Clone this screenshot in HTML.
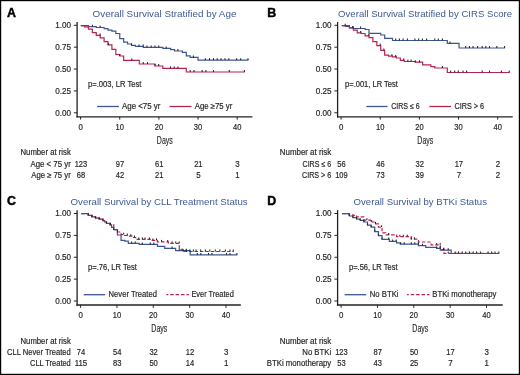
<!DOCTYPE html>
<html><head><meta charset="utf-8"><style>
html,body{margin:0;padding:0;background:#fff;}
svg{display:block;will-change:transform;font-family:"Liberation Sans",sans-serif;}
</style></head><body>
<svg width="520" height="375" viewBox="0 0 520 375">
<rect x="0" y="0" width="520" height="375" fill="#fff"/>
<rect x="0.6" y="0.6" width="518.8" height="373.8" fill="none" stroke="#000" stroke-width="1.2"/>
<text x="7.00" y="17.00" font-size="12.4" font-weight="bold" fill="#000" stroke="#000" stroke-width="0.45">A</text>
<text x="92.60" y="17.00" font-size="9.8" textLength="143.80" lengthAdjust="spacingAndGlyphs" fill="#3f5b93">Overall Survival Stratified by Age</text>
<line x1="77.10" y1="22.00" x2="77.10" y2="117.45" stroke="#222222" stroke-width="1.3"/>
<line x1="76.45" y1="116.80" x2="252.40" y2="116.80" stroke="#222222" stroke-width="1.3"/>
<line x1="73.90" y1="25.30" x2="77.10" y2="25.30" stroke="#222222" stroke-width="1.0"/>
<text x="71.00" y="28.20" font-size="8.6" text-anchor="end" textLength="15.80" lengthAdjust="spacingAndGlyphs" fill="#231f20" stroke="#231f20" stroke-width="0.18">1.00</text>
<line x1="73.90" y1="47.17" x2="77.10" y2="47.17" stroke="#222222" stroke-width="1.0"/>
<text x="71.00" y="50.07" font-size="8.6" text-anchor="end" textLength="15.80" lengthAdjust="spacingAndGlyphs" fill="#231f20" stroke="#231f20" stroke-width="0.18">0.75</text>
<line x1="73.90" y1="69.05" x2="77.10" y2="69.05" stroke="#222222" stroke-width="1.0"/>
<text x="71.00" y="71.95" font-size="8.6" text-anchor="end" textLength="15.80" lengthAdjust="spacingAndGlyphs" fill="#231f20" stroke="#231f20" stroke-width="0.18">0.50</text>
<line x1="73.90" y1="90.92" x2="77.10" y2="90.92" stroke="#222222" stroke-width="1.0"/>
<text x="71.00" y="93.83" font-size="8.6" text-anchor="end" textLength="15.80" lengthAdjust="spacingAndGlyphs" fill="#231f20" stroke="#231f20" stroke-width="0.18">0.25</text>
<line x1="73.90" y1="112.80" x2="77.10" y2="112.80" stroke="#222222" stroke-width="1.0"/>
<text x="71.00" y="115.70" font-size="8.6" text-anchor="end" textLength="15.80" lengthAdjust="spacingAndGlyphs" fill="#231f20" stroke="#231f20" stroke-width="0.18">0.00</text>
<line x1="80.60" y1="116.80" x2="80.60" y2="119.60" stroke="#222222" stroke-width="1.0"/>
<text x="80.60" y="129.60" font-size="8.6" text-anchor="middle" textLength="4.40" lengthAdjust="spacingAndGlyphs" fill="#231f20" stroke="#231f20" stroke-width="0.18">0</text>
<line x1="119.75" y1="116.80" x2="119.75" y2="119.60" stroke="#222222" stroke-width="1.0"/>
<text x="119.75" y="129.60" font-size="8.6" text-anchor="middle" textLength="8.40" lengthAdjust="spacingAndGlyphs" fill="#231f20" stroke="#231f20" stroke-width="0.18">10</text>
<line x1="158.90" y1="116.80" x2="158.90" y2="119.60" stroke="#222222" stroke-width="1.0"/>
<text x="158.90" y="129.60" font-size="8.6" text-anchor="middle" textLength="8.40" lengthAdjust="spacingAndGlyphs" fill="#231f20" stroke="#231f20" stroke-width="0.18">20</text>
<line x1="198.05" y1="116.80" x2="198.05" y2="119.60" stroke="#222222" stroke-width="1.0"/>
<text x="198.05" y="129.60" font-size="8.6" text-anchor="middle" textLength="8.40" lengthAdjust="spacingAndGlyphs" fill="#231f20" stroke="#231f20" stroke-width="0.18">30</text>
<line x1="237.20" y1="116.80" x2="237.20" y2="119.60" stroke="#222222" stroke-width="1.0"/>
<text x="237.20" y="129.60" font-size="8.6" text-anchor="middle" textLength="8.40" lengthAdjust="spacingAndGlyphs" fill="#231f20" stroke="#231f20" stroke-width="0.18">40</text>
<text x="164.80" y="143.60" font-size="10" text-anchor="middle" textLength="15.90" lengthAdjust="spacingAndGlyphs" fill="#231f20" stroke="#231f20" stroke-width="0.15">Days</text>
<text x="88.10" y="86.50" font-size="8.6" textLength="53.30" lengthAdjust="spacingAndGlyphs" fill="#231f20" stroke="#231f20" stroke-width="0.18">p=.003, LR Test</text>
<line x1="97.10" y1="106.50" x2="118.90" y2="106.50" stroke="#3a5692" stroke-width="1.3"/>
<text x="122.00" y="109.10" font-size="8.3" textLength="38.30" lengthAdjust="spacingAndGlyphs" fill="#231f20" stroke="#231f20" stroke-width="0.18">Age &lt;75 yr</text>
<line x1="169.60" y1="106.50" x2="191.50" y2="106.50" stroke="#b8234d" stroke-width="1.3"/>
<text x="194.70" y="109.10" font-size="8.3" textLength="37.60" lengthAdjust="spacingAndGlyphs" fill="#231f20" stroke="#231f20" stroke-width="0.18">Age ≥75 yr</text>
<text x="70.75" y="155.40" font-size="8.2" text-anchor="end" textLength="50.25" lengthAdjust="spacingAndGlyphs" fill="#231f20" stroke="#231f20" stroke-width="0.18">Number at risk</text>
<text x="70.75" y="167.00" font-size="8.3" text-anchor="end" textLength="40.25" lengthAdjust="spacingAndGlyphs" fill="#231f20" stroke="#231f20" stroke-width="0.18">Age &lt; 75 yr</text>
<text x="80.90" y="167.00" font-size="8.6" text-anchor="middle" textLength="12.50" lengthAdjust="spacingAndGlyphs" fill="#231f20" stroke="#231f20" stroke-width="0.18">123</text>
<text x="120.05" y="167.00" font-size="8.6" text-anchor="middle" textLength="8.40" lengthAdjust="spacingAndGlyphs" fill="#231f20" stroke="#231f20" stroke-width="0.18">97</text>
<text x="159.20" y="167.00" font-size="8.6" text-anchor="middle" textLength="8.40" lengthAdjust="spacingAndGlyphs" fill="#231f20" stroke="#231f20" stroke-width="0.18">61</text>
<text x="198.35" y="167.00" font-size="8.6" text-anchor="middle" textLength="8.40" lengthAdjust="spacingAndGlyphs" fill="#231f20" stroke="#231f20" stroke-width="0.18">21</text>
<text x="237.50" y="167.00" font-size="8.6" text-anchor="middle" textLength="4.40" lengthAdjust="spacingAndGlyphs" fill="#231f20" stroke="#231f20" stroke-width="0.18">3</text>
<text x="70.75" y="177.90" font-size="8.3" text-anchor="end" textLength="39.50" lengthAdjust="spacingAndGlyphs" fill="#231f20" stroke="#231f20" stroke-width="0.18">Age ≥ 75 yr</text>
<text x="80.90" y="177.90" font-size="8.6" text-anchor="middle" textLength="8.40" lengthAdjust="spacingAndGlyphs" fill="#231f20" stroke="#231f20" stroke-width="0.18">68</text>
<text x="120.05" y="177.90" font-size="8.6" text-anchor="middle" textLength="8.40" lengthAdjust="spacingAndGlyphs" fill="#231f20" stroke="#231f20" stroke-width="0.18">42</text>
<text x="159.20" y="177.90" font-size="8.6" text-anchor="middle" textLength="8.40" lengthAdjust="spacingAndGlyphs" fill="#231f20" stroke="#231f20" stroke-width="0.18">21</text>
<text x="198.35" y="177.90" font-size="8.6" text-anchor="middle" textLength="4.40" lengthAdjust="spacingAndGlyphs" fill="#231f20" stroke="#231f20" stroke-width="0.18">5</text>
<text x="237.50" y="177.90" font-size="8.6" text-anchor="middle" textLength="4.40" lengthAdjust="spacingAndGlyphs" fill="#231f20" stroke="#231f20" stroke-width="0.18">1</text>
<text x="267.20" y="17.00" font-size="12.4" font-weight="bold" fill="#000" stroke="#000" stroke-width="0.45">B</text>
<text x="338.10" y="17.00" font-size="9.8" textLength="174.00" lengthAdjust="spacingAndGlyphs" fill="#3f5b93">Overall Survival Stratified by CIRS Score</text>
<line x1="337.60" y1="22.00" x2="337.60" y2="117.45" stroke="#222222" stroke-width="1.3"/>
<line x1="336.95" y1="116.80" x2="512.80" y2="116.80" stroke="#222222" stroke-width="1.3"/>
<line x1="334.40" y1="25.30" x2="337.60" y2="25.30" stroke="#222222" stroke-width="1.0"/>
<text x="331.50" y="28.20" font-size="8.6" text-anchor="end" textLength="15.80" lengthAdjust="spacingAndGlyphs" fill="#231f20" stroke="#231f20" stroke-width="0.18">1.00</text>
<line x1="334.40" y1="47.17" x2="337.60" y2="47.17" stroke="#222222" stroke-width="1.0"/>
<text x="331.50" y="50.07" font-size="8.6" text-anchor="end" textLength="15.80" lengthAdjust="spacingAndGlyphs" fill="#231f20" stroke="#231f20" stroke-width="0.18">0.75</text>
<line x1="334.40" y1="69.05" x2="337.60" y2="69.05" stroke="#222222" stroke-width="1.0"/>
<text x="331.50" y="71.95" font-size="8.6" text-anchor="end" textLength="15.80" lengthAdjust="spacingAndGlyphs" fill="#231f20" stroke="#231f20" stroke-width="0.18">0.50</text>
<line x1="334.40" y1="90.92" x2="337.60" y2="90.92" stroke="#222222" stroke-width="1.0"/>
<text x="331.50" y="93.83" font-size="8.6" text-anchor="end" textLength="15.80" lengthAdjust="spacingAndGlyphs" fill="#231f20" stroke="#231f20" stroke-width="0.18">0.25</text>
<line x1="334.40" y1="112.80" x2="337.60" y2="112.80" stroke="#222222" stroke-width="1.0"/>
<text x="331.50" y="115.70" font-size="8.6" text-anchor="end" textLength="15.80" lengthAdjust="spacingAndGlyphs" fill="#231f20" stroke="#231f20" stroke-width="0.18">0.00</text>
<line x1="341.10" y1="116.80" x2="341.10" y2="119.60" stroke="#222222" stroke-width="1.0"/>
<text x="341.10" y="129.60" font-size="8.6" text-anchor="middle" textLength="4.40" lengthAdjust="spacingAndGlyphs" fill="#231f20" stroke="#231f20" stroke-width="0.18">0</text>
<line x1="380.25" y1="116.80" x2="380.25" y2="119.60" stroke="#222222" stroke-width="1.0"/>
<text x="380.25" y="129.60" font-size="8.6" text-anchor="middle" textLength="8.40" lengthAdjust="spacingAndGlyphs" fill="#231f20" stroke="#231f20" stroke-width="0.18">10</text>
<line x1="419.40" y1="116.80" x2="419.40" y2="119.60" stroke="#222222" stroke-width="1.0"/>
<text x="419.40" y="129.60" font-size="8.6" text-anchor="middle" textLength="8.40" lengthAdjust="spacingAndGlyphs" fill="#231f20" stroke="#231f20" stroke-width="0.18">20</text>
<line x1="458.55" y1="116.80" x2="458.55" y2="119.60" stroke="#222222" stroke-width="1.0"/>
<text x="458.55" y="129.60" font-size="8.6" text-anchor="middle" textLength="8.40" lengthAdjust="spacingAndGlyphs" fill="#231f20" stroke="#231f20" stroke-width="0.18">30</text>
<line x1="497.70" y1="116.80" x2="497.70" y2="119.60" stroke="#222222" stroke-width="1.0"/>
<text x="497.70" y="129.60" font-size="8.6" text-anchor="middle" textLength="8.40" lengthAdjust="spacingAndGlyphs" fill="#231f20" stroke="#231f20" stroke-width="0.18">40</text>
<text x="425.30" y="143.60" font-size="10" text-anchor="middle" textLength="15.90" lengthAdjust="spacingAndGlyphs" fill="#231f20" stroke="#231f20" stroke-width="0.15">Days</text>
<text x="345.10" y="86.50" font-size="8.6" textLength="52.70" lengthAdjust="spacingAndGlyphs" fill="#231f20" stroke="#231f20" stroke-width="0.18">p=.001, LR Test</text>
<line x1="366.40" y1="106.50" x2="387.50" y2="106.50" stroke="#3a5692" stroke-width="1.3"/>
<text x="391.20" y="109.10" font-size="8.3" textLength="28.60" lengthAdjust="spacingAndGlyphs" fill="#231f20" stroke="#231f20" stroke-width="0.18">CIRS ≤ 6</text>
<line x1="429.30" y1="106.50" x2="451.00" y2="106.50" stroke="#b8234d" stroke-width="1.3"/>
<text x="454.40" y="109.10" font-size="8.3" textLength="29.70" lengthAdjust="spacingAndGlyphs" fill="#231f20" stroke="#231f20" stroke-width="0.18">CIRS &gt; 6</text>
<text x="331.25" y="155.40" font-size="8.2" text-anchor="end" textLength="51.50" lengthAdjust="spacingAndGlyphs" fill="#231f20" stroke="#231f20" stroke-width="0.18">Number at risk</text>
<text x="331.25" y="167.00" font-size="8.3" text-anchor="end" textLength="28.75" lengthAdjust="spacingAndGlyphs" fill="#231f20" stroke="#231f20" stroke-width="0.18">CIRS ≤ 6</text>
<text x="341.40" y="167.00" font-size="8.6" text-anchor="middle" textLength="8.40" lengthAdjust="spacingAndGlyphs" fill="#231f20" stroke="#231f20" stroke-width="0.18">56</text>
<text x="380.55" y="167.00" font-size="8.6" text-anchor="middle" textLength="8.40" lengthAdjust="spacingAndGlyphs" fill="#231f20" stroke="#231f20" stroke-width="0.18">46</text>
<text x="419.70" y="167.00" font-size="8.6" text-anchor="middle" textLength="8.40" lengthAdjust="spacingAndGlyphs" fill="#231f20" stroke="#231f20" stroke-width="0.18">32</text>
<text x="458.85" y="167.00" font-size="8.6" text-anchor="middle" textLength="8.40" lengthAdjust="spacingAndGlyphs" fill="#231f20" stroke="#231f20" stroke-width="0.18">17</text>
<text x="498.00" y="167.00" font-size="8.6" text-anchor="middle" textLength="4.40" lengthAdjust="spacingAndGlyphs" fill="#231f20" stroke="#231f20" stroke-width="0.18">2</text>
<text x="331.25" y="177.90" font-size="8.3" text-anchor="end" textLength="29.25" lengthAdjust="spacingAndGlyphs" fill="#231f20" stroke="#231f20" stroke-width="0.18">CIRS &gt; 6</text>
<text x="341.40" y="177.90" font-size="8.6" text-anchor="middle" textLength="12.50" lengthAdjust="spacingAndGlyphs" fill="#231f20" stroke="#231f20" stroke-width="0.18">109</text>
<text x="380.55" y="177.90" font-size="8.6" text-anchor="middle" textLength="8.40" lengthAdjust="spacingAndGlyphs" fill="#231f20" stroke="#231f20" stroke-width="0.18">73</text>
<text x="419.70" y="177.90" font-size="8.6" text-anchor="middle" textLength="8.40" lengthAdjust="spacingAndGlyphs" fill="#231f20" stroke="#231f20" stroke-width="0.18">39</text>
<text x="458.85" y="177.90" font-size="8.6" text-anchor="middle" textLength="4.40" lengthAdjust="spacingAndGlyphs" fill="#231f20" stroke="#231f20" stroke-width="0.18">7</text>
<text x="498.00" y="177.90" font-size="8.6" text-anchor="middle" textLength="4.40" lengthAdjust="spacingAndGlyphs" fill="#231f20" stroke="#231f20" stroke-width="0.18">2</text>
<text x="7.00" y="205.20" font-size="12.4" font-weight="bold" fill="#000" stroke="#000" stroke-width="0.45">C</text>
<text x="70.60" y="205.20" font-size="9.8" textLength="177.10" lengthAdjust="spacingAndGlyphs" fill="#3f5b93">Overall Survival by CLL Treatment Status</text>
<line x1="77.10" y1="210.20" x2="77.10" y2="305.65" stroke="#222222" stroke-width="1.3"/>
<line x1="76.45" y1="305.00" x2="240.80" y2="305.00" stroke="#222222" stroke-width="1.3"/>
<line x1="73.90" y1="213.50" x2="77.10" y2="213.50" stroke="#222222" stroke-width="1.0"/>
<text x="71.00" y="216.40" font-size="8.6" text-anchor="end" textLength="15.80" lengthAdjust="spacingAndGlyphs" fill="#231f20" stroke="#231f20" stroke-width="0.18">1.00</text>
<line x1="73.90" y1="235.38" x2="77.10" y2="235.38" stroke="#222222" stroke-width="1.0"/>
<text x="71.00" y="238.28" font-size="8.6" text-anchor="end" textLength="15.80" lengthAdjust="spacingAndGlyphs" fill="#231f20" stroke="#231f20" stroke-width="0.18">0.75</text>
<line x1="73.90" y1="257.25" x2="77.10" y2="257.25" stroke="#222222" stroke-width="1.0"/>
<text x="71.00" y="260.15" font-size="8.6" text-anchor="end" textLength="15.80" lengthAdjust="spacingAndGlyphs" fill="#231f20" stroke="#231f20" stroke-width="0.18">0.50</text>
<line x1="73.90" y1="279.12" x2="77.10" y2="279.12" stroke="#222222" stroke-width="1.0"/>
<text x="71.00" y="282.02" font-size="8.6" text-anchor="end" textLength="15.80" lengthAdjust="spacingAndGlyphs" fill="#231f20" stroke="#231f20" stroke-width="0.18">0.25</text>
<line x1="73.90" y1="301.00" x2="77.10" y2="301.00" stroke="#222222" stroke-width="1.0"/>
<text x="71.00" y="303.90" font-size="8.6" text-anchor="end" textLength="15.80" lengthAdjust="spacingAndGlyphs" fill="#231f20" stroke="#231f20" stroke-width="0.18">0.00</text>
<line x1="80.60" y1="305.00" x2="80.60" y2="307.80" stroke="#222222" stroke-width="1.0"/>
<text x="80.60" y="317.80" font-size="8.6" text-anchor="middle" textLength="4.40" lengthAdjust="spacingAndGlyphs" fill="#231f20" stroke="#231f20" stroke-width="0.18">0</text>
<line x1="116.95" y1="305.00" x2="116.95" y2="307.80" stroke="#222222" stroke-width="1.0"/>
<text x="116.95" y="317.80" font-size="8.6" text-anchor="middle" textLength="8.40" lengthAdjust="spacingAndGlyphs" fill="#231f20" stroke="#231f20" stroke-width="0.18">10</text>
<line x1="153.30" y1="305.00" x2="153.30" y2="307.80" stroke="#222222" stroke-width="1.0"/>
<text x="153.30" y="317.80" font-size="8.6" text-anchor="middle" textLength="8.40" lengthAdjust="spacingAndGlyphs" fill="#231f20" stroke="#231f20" stroke-width="0.18">20</text>
<line x1="189.65" y1="305.00" x2="189.65" y2="307.80" stroke="#222222" stroke-width="1.0"/>
<text x="189.65" y="317.80" font-size="8.6" text-anchor="middle" textLength="8.40" lengthAdjust="spacingAndGlyphs" fill="#231f20" stroke="#231f20" stroke-width="0.18">30</text>
<line x1="226.00" y1="305.00" x2="226.00" y2="307.80" stroke="#222222" stroke-width="1.0"/>
<text x="226.00" y="317.80" font-size="8.6" text-anchor="middle" textLength="8.40" lengthAdjust="spacingAndGlyphs" fill="#231f20" stroke="#231f20" stroke-width="0.18">40</text>
<text x="159.30" y="331.80" font-size="10" text-anchor="middle" textLength="15.90" lengthAdjust="spacingAndGlyphs" fill="#231f20" stroke="#231f20" stroke-width="0.15">Days</text>
<text x="88.10" y="269.80" font-size="8.6" textLength="48.70" lengthAdjust="spacingAndGlyphs" fill="#231f20" stroke="#231f20" stroke-width="0.18">p=.76, LR Test</text>
<line x1="83.70" y1="294.70" x2="105.20" y2="294.70" stroke="#3a5692" stroke-width="1.3"/>
<text x="108.60" y="297.30" font-size="8.3" textLength="48.30" lengthAdjust="spacingAndGlyphs" fill="#231f20" stroke="#231f20" stroke-width="0.18">Never Treated</text>
<line x1="166.40" y1="294.70" x2="188.90" y2="294.70" stroke="#b8234d" stroke-width="1.3" stroke-dasharray="3.5 1.9" stroke-dashoffset="1.6"/>
<text x="191.40" y="297.30" font-size="8.3" textLength="42.40" lengthAdjust="spacingAndGlyphs" fill="#231f20" stroke="#231f20" stroke-width="0.18">Ever Treated</text>
<text x="70.75" y="343.60" font-size="8.2" text-anchor="end" textLength="50.25" lengthAdjust="spacingAndGlyphs" fill="#231f20" stroke="#231f20" stroke-width="0.18">Number at risk</text>
<text x="70.75" y="355.20" font-size="8.3" text-anchor="end" textLength="63.75" lengthAdjust="spacingAndGlyphs" fill="#231f20" stroke="#231f20" stroke-width="0.18">CLL Never Treated</text>
<text x="80.90" y="355.20" font-size="8.6" text-anchor="middle" textLength="8.40" lengthAdjust="spacingAndGlyphs" fill="#231f20" stroke="#231f20" stroke-width="0.18">74</text>
<text x="117.25" y="355.20" font-size="8.6" text-anchor="middle" textLength="8.40" lengthAdjust="spacingAndGlyphs" fill="#231f20" stroke="#231f20" stroke-width="0.18">54</text>
<text x="153.60" y="355.20" font-size="8.6" text-anchor="middle" textLength="8.40" lengthAdjust="spacingAndGlyphs" fill="#231f20" stroke="#231f20" stroke-width="0.18">32</text>
<text x="189.95" y="355.20" font-size="8.6" text-anchor="middle" textLength="8.40" lengthAdjust="spacingAndGlyphs" fill="#231f20" stroke="#231f20" stroke-width="0.18">12</text>
<text x="226.30" y="355.20" font-size="8.6" text-anchor="middle" textLength="4.40" lengthAdjust="spacingAndGlyphs" fill="#231f20" stroke="#231f20" stroke-width="0.18">3</text>
<text x="70.75" y="366.10" font-size="8.3" text-anchor="end" textLength="40.75" lengthAdjust="spacingAndGlyphs" fill="#231f20" stroke="#231f20" stroke-width="0.18">CLL Treated</text>
<text x="80.90" y="366.10" font-size="8.6" text-anchor="middle" textLength="12.50" lengthAdjust="spacingAndGlyphs" fill="#231f20" stroke="#231f20" stroke-width="0.18">115</text>
<text x="117.25" y="366.10" font-size="8.6" text-anchor="middle" textLength="8.40" lengthAdjust="spacingAndGlyphs" fill="#231f20" stroke="#231f20" stroke-width="0.18">83</text>
<text x="153.60" y="366.10" font-size="8.6" text-anchor="middle" textLength="8.40" lengthAdjust="spacingAndGlyphs" fill="#231f20" stroke="#231f20" stroke-width="0.18">50</text>
<text x="189.95" y="366.10" font-size="8.6" text-anchor="middle" textLength="8.40" lengthAdjust="spacingAndGlyphs" fill="#231f20" stroke="#231f20" stroke-width="0.18">14</text>
<text x="226.30" y="366.10" font-size="8.6" text-anchor="middle" textLength="4.40" lengthAdjust="spacingAndGlyphs" fill="#231f20" stroke="#231f20" stroke-width="0.18">1</text>
<text x="267.20" y="205.20" font-size="12.4" font-weight="bold" fill="#000" stroke="#000" stroke-width="0.45">D</text>
<text x="353.60" y="205.20" font-size="9.8" textLength="133.40" lengthAdjust="spacingAndGlyphs" fill="#3f5b93">Overall Survival by BTKi Status</text>
<line x1="337.60" y1="210.20" x2="337.60" y2="305.65" stroke="#222222" stroke-width="1.3"/>
<line x1="336.95" y1="305.00" x2="502.70" y2="305.00" stroke="#222222" stroke-width="1.3"/>
<line x1="334.40" y1="213.50" x2="337.60" y2="213.50" stroke="#222222" stroke-width="1.0"/>
<text x="331.50" y="216.40" font-size="8.6" text-anchor="end" textLength="15.80" lengthAdjust="spacingAndGlyphs" fill="#231f20" stroke="#231f20" stroke-width="0.18">1.00</text>
<line x1="334.40" y1="235.38" x2="337.60" y2="235.38" stroke="#222222" stroke-width="1.0"/>
<text x="331.50" y="238.28" font-size="8.6" text-anchor="end" textLength="15.80" lengthAdjust="spacingAndGlyphs" fill="#231f20" stroke="#231f20" stroke-width="0.18">0.75</text>
<line x1="334.40" y1="257.25" x2="337.60" y2="257.25" stroke="#222222" stroke-width="1.0"/>
<text x="331.50" y="260.15" font-size="8.6" text-anchor="end" textLength="15.80" lengthAdjust="spacingAndGlyphs" fill="#231f20" stroke="#231f20" stroke-width="0.18">0.50</text>
<line x1="334.40" y1="279.12" x2="337.60" y2="279.12" stroke="#222222" stroke-width="1.0"/>
<text x="331.50" y="282.02" font-size="8.6" text-anchor="end" textLength="15.80" lengthAdjust="spacingAndGlyphs" fill="#231f20" stroke="#231f20" stroke-width="0.18">0.25</text>
<line x1="334.40" y1="301.00" x2="337.60" y2="301.00" stroke="#222222" stroke-width="1.0"/>
<text x="331.50" y="303.90" font-size="8.6" text-anchor="end" textLength="15.80" lengthAdjust="spacingAndGlyphs" fill="#231f20" stroke="#231f20" stroke-width="0.18">0.00</text>
<line x1="341.10" y1="305.00" x2="341.10" y2="307.80" stroke="#222222" stroke-width="1.0"/>
<text x="341.10" y="317.80" font-size="8.6" text-anchor="middle" textLength="4.40" lengthAdjust="spacingAndGlyphs" fill="#231f20" stroke="#231f20" stroke-width="0.18">0</text>
<line x1="377.45" y1="305.00" x2="377.45" y2="307.80" stroke="#222222" stroke-width="1.0"/>
<text x="377.45" y="317.80" font-size="8.6" text-anchor="middle" textLength="8.40" lengthAdjust="spacingAndGlyphs" fill="#231f20" stroke="#231f20" stroke-width="0.18">10</text>
<line x1="413.80" y1="305.00" x2="413.80" y2="307.80" stroke="#222222" stroke-width="1.0"/>
<text x="413.80" y="317.80" font-size="8.6" text-anchor="middle" textLength="8.40" lengthAdjust="spacingAndGlyphs" fill="#231f20" stroke="#231f20" stroke-width="0.18">20</text>
<line x1="450.15" y1="305.00" x2="450.15" y2="307.80" stroke="#222222" stroke-width="1.0"/>
<text x="450.15" y="317.80" font-size="8.6" text-anchor="middle" textLength="8.40" lengthAdjust="spacingAndGlyphs" fill="#231f20" stroke="#231f20" stroke-width="0.18">30</text>
<line x1="486.50" y1="305.00" x2="486.50" y2="307.80" stroke="#222222" stroke-width="1.0"/>
<text x="486.50" y="317.80" font-size="8.6" text-anchor="middle" textLength="8.40" lengthAdjust="spacingAndGlyphs" fill="#231f20" stroke="#231f20" stroke-width="0.18">40</text>
<text x="420.30" y="331.80" font-size="10" text-anchor="middle" textLength="15.90" lengthAdjust="spacingAndGlyphs" fill="#231f20" stroke="#231f20" stroke-width="0.15">Days</text>
<text x="349.00" y="269.80" font-size="8.6" textLength="48.50" lengthAdjust="spacingAndGlyphs" fill="#231f20" stroke="#231f20" stroke-width="0.18">p=.56, LR Test</text>
<line x1="344.60" y1="294.70" x2="366.20" y2="294.70" stroke="#3a5692" stroke-width="1.3"/>
<text x="369.80" y="297.30" font-size="8.3" textLength="28.70" lengthAdjust="spacingAndGlyphs" fill="#231f20" stroke="#231f20" stroke-width="0.18">No BTKi</text>
<line x1="406.90" y1="294.70" x2="429.40" y2="294.70" stroke="#b8234d" stroke-width="1.3" stroke-dasharray="3.5 1.9" stroke-dashoffset="1.6"/>
<text x="432.30" y="297.30" font-size="8.3" textLength="64.00" lengthAdjust="spacingAndGlyphs" fill="#231f20" stroke="#231f20" stroke-width="0.18">BTKi monotherapy</text>
<text x="331.25" y="343.60" font-size="8.2" text-anchor="end" textLength="51.50" lengthAdjust="spacingAndGlyphs" fill="#231f20" stroke="#231f20" stroke-width="0.18">Number at risk</text>
<text x="331.25" y="355.20" font-size="8.3" text-anchor="end" textLength="29.00" lengthAdjust="spacingAndGlyphs" fill="#231f20" stroke="#231f20" stroke-width="0.18">No BTKi</text>
<text x="341.40" y="355.20" font-size="8.6" text-anchor="middle" textLength="12.50" lengthAdjust="spacingAndGlyphs" fill="#231f20" stroke="#231f20" stroke-width="0.18">123</text>
<text x="377.75" y="355.20" font-size="8.6" text-anchor="middle" textLength="8.40" lengthAdjust="spacingAndGlyphs" fill="#231f20" stroke="#231f20" stroke-width="0.18">87</text>
<text x="414.10" y="355.20" font-size="8.6" text-anchor="middle" textLength="8.40" lengthAdjust="spacingAndGlyphs" fill="#231f20" stroke="#231f20" stroke-width="0.18">50</text>
<text x="450.45" y="355.20" font-size="8.6" text-anchor="middle" textLength="8.40" lengthAdjust="spacingAndGlyphs" fill="#231f20" stroke="#231f20" stroke-width="0.18">17</text>
<text x="486.80" y="355.20" font-size="8.6" text-anchor="middle" textLength="4.40" lengthAdjust="spacingAndGlyphs" fill="#231f20" stroke="#231f20" stroke-width="0.18">3</text>
<text x="331.25" y="366.10" font-size="8.3" text-anchor="end" textLength="64.50" lengthAdjust="spacingAndGlyphs" fill="#231f20" stroke="#231f20" stroke-width="0.18">BTKi monotherapy</text>
<text x="341.40" y="366.10" font-size="8.6" text-anchor="middle" textLength="8.40" lengthAdjust="spacingAndGlyphs" fill="#231f20" stroke="#231f20" stroke-width="0.18">53</text>
<text x="377.75" y="366.10" font-size="8.6" text-anchor="middle" textLength="8.40" lengthAdjust="spacingAndGlyphs" fill="#231f20" stroke="#231f20" stroke-width="0.18">43</text>
<text x="414.10" y="366.10" font-size="8.6" text-anchor="middle" textLength="8.40" lengthAdjust="spacingAndGlyphs" fill="#231f20" stroke="#231f20" stroke-width="0.18">25</text>
<text x="450.45" y="366.10" font-size="8.6" text-anchor="middle" textLength="4.40" lengthAdjust="spacingAndGlyphs" fill="#231f20" stroke="#231f20" stroke-width="0.18">7</text>
<text x="486.80" y="366.10" font-size="8.6" text-anchor="middle" textLength="4.40" lengthAdjust="spacingAndGlyphs" fill="#231f20" stroke="#231f20" stroke-width="0.18">1</text>
<path d="M80.80,25.65 L88.43,25.65 L88.43,26.60 L96.26,26.60 L96.26,27.50 L104.09,27.50 L104.09,28.70 L108.00,28.70 L108.00,30.20 L111.92,30.20 L111.92,31.10 L115.83,31.10 L115.83,33.50 L119.75,33.50 L119.75,38.60 L123.66,38.60 L123.66,42.10 L127.58,42.10 L127.58,44.00 L131.50,44.00 L131.50,45.30 L135.41,45.30 L135.41,46.40 L143.24,46.40 L143.24,47.30 L162.81,47.30 L162.81,48.30 L170.64,48.30 L170.64,49.60 L174.56,49.60 L174.56,51.00 L182.39,51.00 L182.39,52.30 L186.31,52.30 L186.31,55.80 L190.22,55.80 L190.22,57.40 L198.05,57.40 L198.05,60.10 L248.50,60.10" fill="none" stroke="#3a5692" stroke-width="1.2" stroke-linejoin="miter"/>
<path d="M80.80,25.65 L84.52,25.65 L84.52,26.80 L88.43,26.80 L88.43,29.20 L92.34,29.20 L92.34,32.60 L96.26,32.60 L96.26,35.40 L100.17,35.40 L100.17,37.90 L104.09,37.90 L104.09,41.70 L108.00,41.70 L108.00,44.90 L111.92,44.90 L111.92,49.40 L115.83,49.40 L115.83,54.50 L119.75,54.50 L119.75,56.00 L123.66,56.00 L123.66,60.30 L139.32,60.30 L139.32,64.00 L154.99,64.00 L154.99,66.00 L162.81,66.00 L162.81,68.30 L186.31,68.30 L186.31,72.00 L244.80,72.00" fill="none" stroke="#b8234d" stroke-width="1.2" stroke-linejoin="miter"/>
<path d="M341.80,25.65 L345.52,25.65 L345.52,26.30 L349.43,26.30 L349.43,27.80 L353.35,27.80 L353.35,28.50 L365.09,28.50 L365.09,29.50 L369.00,29.50 L369.00,33.30 L380.75,33.30 L380.75,35.00 L384.67,35.00 L384.67,38.30 L392.50,38.30 L392.50,40.50 L447.31,40.50 L447.31,43.40 L459.05,43.40 L459.05,48.00 L505.00,48.00" fill="none" stroke="#3a5692" stroke-width="1.2" stroke-linejoin="miter"/>
<path d="M341.80,25.65 L349.43,25.65 L349.43,28.00 L353.35,28.00 L353.35,30.20 L357.26,30.20 L357.26,32.80 L361.18,32.80 L361.18,33.50 L365.09,33.50 L365.09,35.90 L369.00,35.90 L369.00,37.60 L372.92,37.60 L372.92,41.70 L376.84,41.70 L376.84,45.60 L380.75,45.60 L380.75,50.40 L384.67,50.40 L384.67,55.10 L388.58,55.10 L388.58,56.10 L392.50,56.10 L392.50,56.90 L396.41,56.90 L396.41,58.00 L400.33,58.00 L400.33,60.40 L404.24,60.40 L404.24,61.50 L415.20,61.50 L415.20,62.20 L422.64,62.20 L422.64,64.90 L430.86,64.90 L430.86,66.60 L434.78,66.60 L434.78,68.00 L447.31,68.00 L447.31,72.50 L509.60,72.50" fill="none" stroke="#b8234d" stroke-width="1.2" stroke-linejoin="miter"/>
<path d="M81.20,213.65 L88.28,213.65 L88.28,215.30 L91.92,215.30 L91.92,216.90 L95.56,216.90 L95.56,218.20 L99.20,218.20 L99.20,219.10 L102.84,219.10 L102.84,220.60 L104.66,220.60 L104.66,222.00 L106.48,222.00 L106.48,223.40 L110.12,223.40 L110.12,224.90 L111.58,224.90 L111.58,227.30 L113.76,227.30 L113.76,229.70 L117.40,229.70 L117.40,235.00 L121.04,235.00 L121.04,240.30 L124.68,240.30 L124.68,241.20 L128.32,241.20 L128.32,243.30 L139.24,243.30 L139.24,244.40 L157.44,244.40 L157.44,246.40 L164.72,246.40 L164.72,248.40 L175.64,248.40 L175.64,250.60 L190.20,250.60 L190.20,254.80 L237.30,254.80" fill="none" stroke="#3a5692" stroke-width="1.2" stroke-linejoin="miter"/>
<path d="M81.20,213.65 L88.28,213.65 L88.28,215.30 L91.92,215.30 L91.92,216.90 L95.56,216.90 L95.56,218.20 L99.20,218.20 L99.20,219.10 L102.84,219.10 L102.84,220.60 L104.66,220.60 L104.66,222.00 L106.48,222.00 L106.48,223.40 L110.12,223.40 L110.12,224.90 L113.76,224.90 L113.76,229.60 L117.40,229.60 L117.40,232.00 L121.04,232.00 L121.04,234.60 L124.68,234.60 L124.68,235.50 L128.32,235.50 L128.32,236.20 L131.96,236.20 L131.96,237.50 L135.60,237.50 L135.60,239.30 L150.16,239.30 L150.16,240.30 L157.44,240.30 L157.44,241.80 L168.36,241.80 L168.36,243.30 L179.28,243.30 L179.28,249.30 L182.92,249.30 L182.92,251.50 L233.60,251.50" fill="none" stroke="#b8234d" stroke-width="1.2" stroke-dasharray="3.5 1.9" stroke-linejoin="miter"/>
<path d="M342.20,213.65 L349.28,213.65 L349.28,216.00 L352.92,216.00 L352.92,217.70 L356.56,217.70 L356.56,219.10 L360.20,219.10 L360.20,220.40 L363.84,220.40 L363.84,222.00 L367.48,222.00 L367.48,225.20 L371.12,225.20 L371.12,227.10 L374.76,227.10 L374.76,231.60 L378.40,231.60 L378.40,235.60 L382.04,235.60 L382.04,239.30 L389.32,239.30 L389.32,241.30 L396.60,241.30 L396.60,242.80 L400.24,242.80 L400.24,244.20 L418.44,244.20 L418.44,245.60 L425.72,245.60 L425.72,247.30 L436.64,247.30 L436.64,248.40 L440.28,248.40 L440.28,250.20 L451.20,250.20 L451.20,253.50 L499.10,253.50" fill="none" stroke="#3a5692" stroke-width="1.2" stroke-linejoin="miter"/>
<path d="M342.20,213.65 L349.28,213.65 L349.28,214.80 L352.92,214.80 L352.92,215.30 L356.56,215.30 L356.56,216.80 L363.84,216.80 L363.84,220.10 L370.39,220.10 L370.39,222.00 L374.76,222.00 L374.76,223.90 L378.40,223.90 L378.40,227.10 L382.04,227.10 L382.04,232.90 L385.68,232.90 L385.68,234.90 L396.60,234.90 L396.60,236.60 L411.16,236.60 L411.16,239.20 L418.44,239.20 L418.44,242.00 L431.18,242.00 L431.18,244.80 L440.28,244.80 L440.28,249.70 L443.92,249.70 L443.92,253.30 L499.10,253.30" fill="none" stroke="#b8234d" stroke-width="1.2" stroke-dasharray="3.5 1.9" stroke-linejoin="miter"/>
<line x1="92.40" y1="24.70" x2="92.40" y2="26.60" stroke="#222" stroke-width="1.05"/>
<line x1="100.10" y1="25.60" x2="100.10" y2="27.50" stroke="#222" stroke-width="1.05"/>
<line x1="131.50" y1="43.40" x2="131.50" y2="45.30" stroke="#222" stroke-width="1.05"/>
<line x1="139.00" y1="44.50" x2="139.00" y2="46.40" stroke="#222" stroke-width="1.05"/>
<line x1="143.20" y1="44.50" x2="143.20" y2="46.40" stroke="#222" stroke-width="1.05"/>
<line x1="147.00" y1="45.40" x2="147.00" y2="47.30" stroke="#222" stroke-width="1.05"/>
<line x1="151.20" y1="45.40" x2="151.20" y2="47.30" stroke="#222" stroke-width="1.05"/>
<line x1="155.00" y1="45.40" x2="155.00" y2="47.30" stroke="#222" stroke-width="1.05"/>
<line x1="158.70" y1="45.40" x2="158.70" y2="47.30" stroke="#222" stroke-width="1.05"/>
<line x1="166.20" y1="46.40" x2="166.20" y2="48.30" stroke="#222" stroke-width="1.05"/>
<line x1="177.90" y1="49.10" x2="177.90" y2="51.00" stroke="#222" stroke-width="1.05"/>
<line x1="193.40" y1="55.50" x2="193.40" y2="57.40" stroke="#222" stroke-width="1.05"/>
<line x1="205.40" y1="58.20" x2="205.40" y2="60.10" stroke="#222" stroke-width="1.05"/>
<line x1="209.50" y1="58.20" x2="209.50" y2="60.10" stroke="#222" stroke-width="1.05"/>
<line x1="213.50" y1="58.20" x2="213.50" y2="60.10" stroke="#222" stroke-width="1.05"/>
<line x1="217.20" y1="58.20" x2="217.20" y2="60.10" stroke="#222" stroke-width="1.05"/>
<line x1="221.00" y1="58.20" x2="221.00" y2="60.10" stroke="#222" stroke-width="1.05"/>
<line x1="225.00" y1="58.20" x2="225.00" y2="60.10" stroke="#222" stroke-width="1.05"/>
<line x1="228.80" y1="58.20" x2="228.80" y2="60.10" stroke="#222" stroke-width="1.05"/>
<line x1="236.60" y1="58.20" x2="236.60" y2="60.10" stroke="#222" stroke-width="1.05"/>
<line x1="240.70" y1="58.20" x2="240.70" y2="60.10" stroke="#222" stroke-width="1.05"/>
<line x1="248.00" y1="58.20" x2="248.00" y2="60.10" stroke="#222" stroke-width="1.05"/>
<line x1="100.10" y1="33.50" x2="100.10" y2="35.40" stroke="#222" stroke-width="1.05"/>
<line x1="108.30" y1="43.00" x2="108.30" y2="44.90" stroke="#222" stroke-width="1.05"/>
<line x1="119.80" y1="54.10" x2="119.80" y2="56.00" stroke="#222" stroke-width="1.05"/>
<line x1="131.80" y1="58.40" x2="131.80" y2="60.30" stroke="#222" stroke-width="1.05"/>
<line x1="143.20" y1="62.10" x2="143.20" y2="64.00" stroke="#222" stroke-width="1.05"/>
<line x1="147.50" y1="62.10" x2="147.50" y2="64.00" stroke="#222" stroke-width="1.05"/>
<line x1="155.00" y1="64.10" x2="155.00" y2="66.00" stroke="#222" stroke-width="1.05"/>
<line x1="158.70" y1="64.10" x2="158.70" y2="66.00" stroke="#222" stroke-width="1.05"/>
<line x1="170.50" y1="66.40" x2="170.50" y2="68.30" stroke="#222" stroke-width="1.05"/>
<line x1="174.20" y1="66.40" x2="174.20" y2="68.30" stroke="#222" stroke-width="1.05"/>
<line x1="177.90" y1="66.40" x2="177.90" y2="68.30" stroke="#222" stroke-width="1.05"/>
<line x1="190.20" y1="70.10" x2="190.20" y2="72.00" stroke="#222" stroke-width="1.05"/>
<line x1="194.00" y1="70.10" x2="194.00" y2="72.00" stroke="#222" stroke-width="1.05"/>
<line x1="202.20" y1="70.10" x2="202.20" y2="72.00" stroke="#222" stroke-width="1.05"/>
<line x1="205.90" y1="70.10" x2="205.90" y2="72.00" stroke="#222" stroke-width="1.05"/>
<line x1="213.50" y1="70.10" x2="213.50" y2="72.00" stroke="#222" stroke-width="1.05"/>
<line x1="229.30" y1="70.10" x2="229.30" y2="72.00" stroke="#222" stroke-width="1.05"/>
<line x1="244.40" y1="70.10" x2="244.40" y2="72.00" stroke="#222" stroke-width="1.05"/>
<line x1="345.20" y1="23.75" x2="345.20" y2="25.65" stroke="#222" stroke-width="1.05"/>
<line x1="352.90" y1="25.90" x2="352.90" y2="27.80" stroke="#222" stroke-width="1.05"/>
<line x1="360.60" y1="26.60" x2="360.60" y2="28.50" stroke="#222" stroke-width="1.05"/>
<line x1="395.70" y1="38.60" x2="395.70" y2="40.50" stroke="#222" stroke-width="1.05"/>
<line x1="399.40" y1="38.60" x2="399.40" y2="40.50" stroke="#222" stroke-width="1.05"/>
<line x1="403.10" y1="38.60" x2="403.10" y2="40.50" stroke="#222" stroke-width="1.05"/>
<line x1="407.40" y1="38.60" x2="407.40" y2="40.50" stroke="#222" stroke-width="1.05"/>
<line x1="414.90" y1="38.60" x2="414.90" y2="40.50" stroke="#222" stroke-width="1.05"/>
<line x1="418.60" y1="38.60" x2="418.60" y2="40.50" stroke="#222" stroke-width="1.05"/>
<line x1="422.40" y1="38.60" x2="422.40" y2="40.50" stroke="#222" stroke-width="1.05"/>
<line x1="426.60" y1="38.60" x2="426.60" y2="40.50" stroke="#222" stroke-width="1.05"/>
<line x1="434.80" y1="38.60" x2="434.80" y2="40.50" stroke="#222" stroke-width="1.05"/>
<line x1="438.30" y1="38.60" x2="438.30" y2="40.50" stroke="#222" stroke-width="1.05"/>
<line x1="442.40" y1="38.60" x2="442.40" y2="40.50" stroke="#222" stroke-width="1.05"/>
<line x1="450.00" y1="41.50" x2="450.00" y2="43.40" stroke="#222" stroke-width="1.05"/>
<line x1="465.70" y1="46.10" x2="465.70" y2="48.00" stroke="#222" stroke-width="1.05"/>
<line x1="469.40" y1="46.10" x2="469.40" y2="48.00" stroke="#222" stroke-width="1.05"/>
<line x1="473.00" y1="46.10" x2="473.00" y2="48.00" stroke="#222" stroke-width="1.05"/>
<line x1="477.60" y1="46.10" x2="477.60" y2="48.00" stroke="#222" stroke-width="1.05"/>
<line x1="482.20" y1="46.10" x2="482.20" y2="48.00" stroke="#222" stroke-width="1.05"/>
<line x1="485.80" y1="46.10" x2="485.80" y2="48.00" stroke="#222" stroke-width="1.05"/>
<line x1="489.50" y1="46.10" x2="489.50" y2="48.00" stroke="#222" stroke-width="1.05"/>
<line x1="496.80" y1="46.10" x2="496.80" y2="48.00" stroke="#222" stroke-width="1.05"/>
<line x1="504.60" y1="46.10" x2="504.60" y2="48.00" stroke="#222" stroke-width="1.05"/>
<line x1="352.90" y1="26.10" x2="352.90" y2="28.00" stroke="#222" stroke-width="1.05"/>
<line x1="360.60" y1="30.90" x2="360.60" y2="32.80" stroke="#222" stroke-width="1.05"/>
<line x1="368.80" y1="34.00" x2="368.80" y2="35.90" stroke="#222" stroke-width="1.05"/>
<line x1="380.20" y1="43.70" x2="380.20" y2="45.60" stroke="#222" stroke-width="1.05"/>
<line x1="383.90" y1="48.50" x2="383.90" y2="50.40" stroke="#222" stroke-width="1.05"/>
<line x1="391.90" y1="54.20" x2="391.90" y2="56.10" stroke="#222" stroke-width="1.05"/>
<line x1="395.70" y1="55.00" x2="395.70" y2="56.90" stroke="#222" stroke-width="1.05"/>
<line x1="403.70" y1="58.50" x2="403.70" y2="60.40" stroke="#222" stroke-width="1.05"/>
<line x1="407.90" y1="59.60" x2="407.90" y2="61.50" stroke="#222" stroke-width="1.05"/>
<line x1="411.10" y1="59.60" x2="411.10" y2="61.50" stroke="#222" stroke-width="1.05"/>
<line x1="415.30" y1="60.30" x2="415.30" y2="62.20" stroke="#222" stroke-width="1.05"/>
<line x1="419.50" y1="60.30" x2="419.50" y2="62.20" stroke="#222" stroke-width="1.05"/>
<line x1="442.40" y1="66.10" x2="442.40" y2="68.00" stroke="#222" stroke-width="1.05"/>
<line x1="450.60" y1="70.60" x2="450.60" y2="72.50" stroke="#222" stroke-width="1.05"/>
<line x1="454.70" y1="70.60" x2="454.70" y2="72.50" stroke="#222" stroke-width="1.05"/>
<line x1="458.30" y1="70.60" x2="458.30" y2="72.50" stroke="#222" stroke-width="1.05"/>
<line x1="463.00" y1="70.60" x2="463.00" y2="72.50" stroke="#222" stroke-width="1.05"/>
<line x1="466.60" y1="70.60" x2="466.60" y2="72.50" stroke="#222" stroke-width="1.05"/>
<line x1="482.20" y1="70.60" x2="482.20" y2="72.50" stroke="#222" stroke-width="1.05"/>
<line x1="489.50" y1="70.60" x2="489.50" y2="72.50" stroke="#222" stroke-width="1.05"/>
<line x1="501.40" y1="70.60" x2="501.40" y2="72.50" stroke="#222" stroke-width="1.05"/>
<line x1="509.20" y1="70.60" x2="509.20" y2="72.50" stroke="#222" stroke-width="1.05"/>
<line x1="88.28" y1="213.40" x2="88.28" y2="215.30" stroke="#222" stroke-width="1.05"/>
<line x1="91.92" y1="215.00" x2="91.92" y2="216.90" stroke="#222" stroke-width="1.05"/>
<line x1="95.56" y1="216.30" x2="95.56" y2="218.20" stroke="#222" stroke-width="1.05"/>
<line x1="99.20" y1="217.20" x2="99.20" y2="219.10" stroke="#222" stroke-width="1.05"/>
<line x1="102.84" y1="218.70" x2="102.84" y2="220.60" stroke="#222" stroke-width="1.05"/>
<line x1="106.48" y1="221.50" x2="106.48" y2="223.40" stroke="#222" stroke-width="1.05"/>
<line x1="110.12" y1="223.00" x2="110.12" y2="224.90" stroke="#222" stroke-width="1.05"/>
<line x1="113.76" y1="227.80" x2="113.76" y2="229.70" stroke="#222" stroke-width="1.05"/>
<line x1="131.70" y1="241.40" x2="131.70" y2="243.30" stroke="#222" stroke-width="1.05"/>
<line x1="135.20" y1="241.40" x2="135.20" y2="243.30" stroke="#222" stroke-width="1.05"/>
<line x1="142.30" y1="242.50" x2="142.30" y2="244.40" stroke="#222" stroke-width="1.05"/>
<line x1="150.30" y1="242.50" x2="150.30" y2="244.40" stroke="#222" stroke-width="1.05"/>
<line x1="153.80" y1="242.50" x2="153.80" y2="244.40" stroke="#222" stroke-width="1.05"/>
<line x1="172.10" y1="246.50" x2="172.10" y2="248.40" stroke="#222" stroke-width="1.05"/>
<line x1="179.20" y1="248.70" x2="179.20" y2="250.60" stroke="#222" stroke-width="1.05"/>
<line x1="186.30" y1="248.70" x2="186.30" y2="250.60" stroke="#222" stroke-width="1.05"/>
<line x1="197.30" y1="252.90" x2="197.30" y2="254.80" stroke="#222" stroke-width="1.05"/>
<line x1="200.80" y1="252.90" x2="200.80" y2="254.80" stroke="#222" stroke-width="1.05"/>
<line x1="208.50" y1="252.90" x2="208.50" y2="254.80" stroke="#222" stroke-width="1.05"/>
<line x1="211.90" y1="252.90" x2="211.90" y2="254.80" stroke="#222" stroke-width="1.05"/>
<line x1="226.50" y1="252.90" x2="226.50" y2="254.80" stroke="#222" stroke-width="1.05"/>
<line x1="230.00" y1="252.90" x2="230.00" y2="254.80" stroke="#222" stroke-width="1.05"/>
<line x1="236.90" y1="252.90" x2="236.90" y2="254.80" stroke="#222" stroke-width="1.05"/>
<line x1="117.50" y1="230.10" x2="117.50" y2="232.00" stroke="#222" stroke-width="1.05"/>
<line x1="123.70" y1="232.70" x2="123.70" y2="234.60" stroke="#222" stroke-width="1.05"/>
<line x1="127.30" y1="233.60" x2="127.30" y2="235.50" stroke="#222" stroke-width="1.05"/>
<line x1="130.80" y1="234.30" x2="130.80" y2="236.20" stroke="#222" stroke-width="1.05"/>
<line x1="134.40" y1="235.60" x2="134.40" y2="237.50" stroke="#222" stroke-width="1.05"/>
<line x1="138.80" y1="237.40" x2="138.80" y2="239.30" stroke="#222" stroke-width="1.05"/>
<line x1="142.30" y1="237.40" x2="142.30" y2="239.30" stroke="#222" stroke-width="1.05"/>
<line x1="145.00" y1="237.40" x2="145.00" y2="239.30" stroke="#222" stroke-width="1.05"/>
<line x1="149.40" y1="237.40" x2="149.40" y2="239.30" stroke="#222" stroke-width="1.05"/>
<line x1="152.90" y1="238.40" x2="152.90" y2="240.30" stroke="#222" stroke-width="1.05"/>
<line x1="156.50" y1="238.40" x2="156.50" y2="240.30" stroke="#222" stroke-width="1.05"/>
<line x1="161.50" y1="239.90" x2="161.50" y2="241.80" stroke="#222" stroke-width="1.05"/>
<line x1="167.70" y1="239.90" x2="167.70" y2="241.80" stroke="#222" stroke-width="1.05"/>
<line x1="172.10" y1="241.40" x2="172.10" y2="243.30" stroke="#222" stroke-width="1.05"/>
<line x1="175.70" y1="241.40" x2="175.70" y2="243.30" stroke="#222" stroke-width="1.05"/>
<line x1="179.20" y1="241.40" x2="179.20" y2="243.30" stroke="#222" stroke-width="1.05"/>
<line x1="183.20" y1="249.60" x2="183.20" y2="251.50" stroke="#222" stroke-width="1.05"/>
<line x1="186.30" y1="249.60" x2="186.30" y2="251.50" stroke="#222" stroke-width="1.05"/>
<line x1="189.80" y1="249.60" x2="189.80" y2="251.50" stroke="#222" stroke-width="1.05"/>
<line x1="193.40" y1="249.60" x2="193.40" y2="251.50" stroke="#222" stroke-width="1.05"/>
<line x1="196.10" y1="249.60" x2="196.10" y2="251.50" stroke="#222" stroke-width="1.05"/>
<line x1="200.70" y1="249.60" x2="200.70" y2="251.50" stroke="#222" stroke-width="1.05"/>
<line x1="205.30" y1="249.60" x2="205.30" y2="251.50" stroke="#222" stroke-width="1.05"/>
<line x1="209.80" y1="249.60" x2="209.80" y2="251.50" stroke="#222" stroke-width="1.05"/>
<line x1="215.30" y1="249.60" x2="215.30" y2="251.50" stroke="#222" stroke-width="1.05"/>
<line x1="219.90" y1="249.60" x2="219.90" y2="251.50" stroke="#222" stroke-width="1.05"/>
<line x1="225.40" y1="249.60" x2="225.40" y2="251.50" stroke="#222" stroke-width="1.05"/>
<line x1="230.00" y1="249.60" x2="230.00" y2="251.50" stroke="#222" stroke-width="1.05"/>
<line x1="233.30" y1="249.60" x2="233.30" y2="251.50" stroke="#222" stroke-width="1.05"/>
<line x1="349.28" y1="214.10" x2="349.28" y2="216.00" stroke="#222" stroke-width="1.05"/>
<line x1="352.92" y1="215.80" x2="352.92" y2="217.70" stroke="#222" stroke-width="1.05"/>
<line x1="356.56" y1="217.20" x2="356.56" y2="219.10" stroke="#222" stroke-width="1.05"/>
<line x1="360.20" y1="218.50" x2="360.20" y2="220.40" stroke="#222" stroke-width="1.05"/>
<line x1="363.84" y1="220.10" x2="363.84" y2="222.00" stroke="#222" stroke-width="1.05"/>
<line x1="367.48" y1="223.30" x2="367.48" y2="225.20" stroke="#222" stroke-width="1.05"/>
<line x1="371.12" y1="225.20" x2="371.12" y2="227.10" stroke="#222" stroke-width="1.05"/>
<line x1="374.76" y1="229.70" x2="374.76" y2="231.60" stroke="#222" stroke-width="1.05"/>
<line x1="378.40" y1="233.70" x2="378.40" y2="235.60" stroke="#222" stroke-width="1.05"/>
<line x1="382.04" y1="237.40" x2="382.04" y2="239.30" stroke="#222" stroke-width="1.05"/>
<line x1="388.70" y1="237.40" x2="388.70" y2="239.30" stroke="#222" stroke-width="1.05"/>
<line x1="392.70" y1="239.40" x2="392.70" y2="241.30" stroke="#222" stroke-width="1.05"/>
<line x1="396.20" y1="239.40" x2="396.20" y2="241.30" stroke="#222" stroke-width="1.05"/>
<line x1="400.70" y1="242.30" x2="400.70" y2="244.20" stroke="#222" stroke-width="1.05"/>
<line x1="404.20" y1="242.30" x2="404.20" y2="244.20" stroke="#222" stroke-width="1.05"/>
<line x1="411.30" y1="242.30" x2="411.30" y2="244.20" stroke="#222" stroke-width="1.05"/>
<line x1="414.80" y1="242.30" x2="414.80" y2="244.20" stroke="#222" stroke-width="1.05"/>
<line x1="418.40" y1="242.30" x2="418.40" y2="244.20" stroke="#222" stroke-width="1.05"/>
<line x1="422.50" y1="243.70" x2="422.50" y2="245.60" stroke="#222" stroke-width="1.05"/>
<line x1="436.70" y1="246.50" x2="436.70" y2="248.40" stroke="#222" stroke-width="1.05"/>
<line x1="440.20" y1="246.50" x2="440.20" y2="248.40" stroke="#222" stroke-width="1.05"/>
<line x1="443.70" y1="248.30" x2="443.70" y2="250.20" stroke="#222" stroke-width="1.05"/>
<line x1="448.20" y1="248.30" x2="448.20" y2="250.20" stroke="#222" stroke-width="1.05"/>
<line x1="455.20" y1="251.60" x2="455.20" y2="253.50" stroke="#222" stroke-width="1.05"/>
<line x1="366.90" y1="218.20" x2="366.90" y2="220.10" stroke="#222" stroke-width="1.05"/>
<line x1="371.70" y1="220.10" x2="371.70" y2="222.00" stroke="#222" stroke-width="1.05"/>
<line x1="375.50" y1="222.00" x2="375.50" y2="223.90" stroke="#222" stroke-width="1.05"/>
<line x1="381.60" y1="225.20" x2="381.60" y2="227.10" stroke="#222" stroke-width="1.05"/>
<line x1="388.70" y1="233.00" x2="388.70" y2="234.90" stroke="#222" stroke-width="1.05"/>
<line x1="399.80" y1="234.70" x2="399.80" y2="236.60" stroke="#222" stroke-width="1.05"/>
<line x1="403.30" y1="234.70" x2="403.30" y2="236.60" stroke="#222" stroke-width="1.05"/>
<line x1="407.30" y1="234.70" x2="407.30" y2="236.60" stroke="#222" stroke-width="1.05"/>
<line x1="411.30" y1="237.30" x2="411.30" y2="239.20" stroke="#222" stroke-width="1.05"/>
<line x1="414.40" y1="237.30" x2="414.40" y2="239.20" stroke="#222" stroke-width="1.05"/>
<line x1="436.70" y1="242.90" x2="436.70" y2="244.80" stroke="#222" stroke-width="1.05"/>
<line x1="440.20" y1="242.90" x2="440.20" y2="244.80" stroke="#222" stroke-width="1.05"/>
<line x1="443.70" y1="247.80" x2="443.70" y2="249.70" stroke="#222" stroke-width="1.05"/>
<line x1="448.20" y1="251.40" x2="448.20" y2="253.30" stroke="#222" stroke-width="1.05"/>
<line x1="458.50" y1="251.40" x2="458.50" y2="253.30" stroke="#222" stroke-width="1.05"/>
<line x1="462.20" y1="251.40" x2="462.20" y2="253.30" stroke="#222" stroke-width="1.05"/>
<line x1="465.70" y1="251.40" x2="465.70" y2="253.30" stroke="#222" stroke-width="1.05"/>
<line x1="469.40" y1="251.40" x2="469.40" y2="253.30" stroke="#222" stroke-width="1.05"/>
<line x1="473.20" y1="251.40" x2="473.20" y2="253.30" stroke="#222" stroke-width="1.05"/>
<line x1="476.60" y1="251.40" x2="476.60" y2="253.30" stroke="#222" stroke-width="1.05"/>
<line x1="480.40" y1="251.40" x2="480.40" y2="253.30" stroke="#222" stroke-width="1.05"/>
<line x1="488.10" y1="251.40" x2="488.10" y2="253.30" stroke="#222" stroke-width="1.05"/>
<line x1="491.60" y1="251.40" x2="491.60" y2="253.30" stroke="#222" stroke-width="1.05"/>
<line x1="495.00" y1="251.40" x2="495.00" y2="253.30" stroke="#222" stroke-width="1.05"/>
<line x1="498.90" y1="251.40" x2="498.90" y2="253.30" stroke="#222" stroke-width="1.05"/>
</svg>
</body></html>
